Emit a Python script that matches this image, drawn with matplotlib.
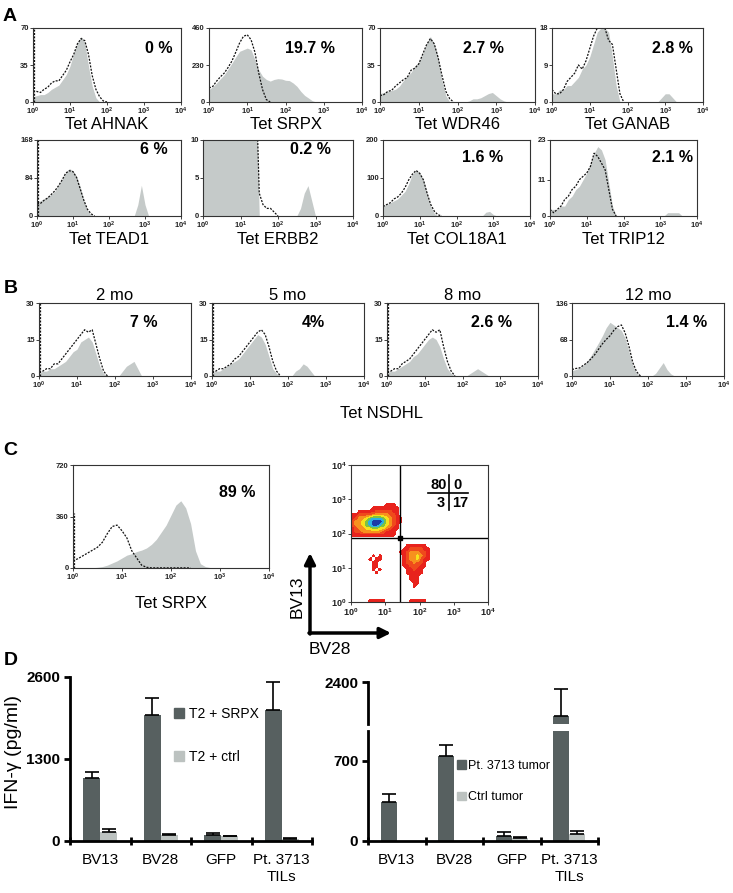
import numpy as np
import matplotlib
matplotlib.use('Agg')
import matplotlib.pyplot as plt
from matplotlib.colors import ListedColormap
from matplotlib.patches import Patch, FancyArrowPatch

plt.rcParams['font.family'] = ['Liberation Sans', 'DejaVu Sans']
plt.rcParams['mathtext.fontset'] = 'custom'
plt.rcParams['mathtext.rm'] = 'Liberation Sans'
plt.rcParams['mathtext.bf'] = 'Liberation Sans:bold'
plt.rcParams['mathtext.it'] = 'Liberation Sans:italic'

W, H = 733, 893
LOG_X = np.arange(41) * 0.1   # bin positions in decades, 10^0 .. 10^4
GRAY = '#c5cac9'
DARK = '#576060'
LIGHT = '#bcc2c0'

# ---------------- panel A : tetramer histograms (counts per 0.1 decade) ----------------
A_LABELS = ['Tet AHNAK', 'Tet SRPX', 'Tet WDR46', 'Tet GANAB',
            'Tet TEAD1', 'Tet ERBB2', 'Tet COL18A1', 'Tet TRIP12']
A_PCT = ['0 %', '19.7 %', '2.7 %', '2.8 %', '6 %', '0.2 %', '1.6 %', '2.1 %']
A_YMAX = [70, 460, 70, 18, 168, 10, 200, 23]
A_YMID = [35, 230, 35, 9, 84, 5, 100, 11]
A_EDGE = [70, 0, 0, 0, 168, 0, 0, 0]

ahnak = [5, 6, 7, 7, 9, 12, 14, 16, 21, 26, 34, 46, 56, 62, 56, 34, 15, 4, 0]
ahnak_ctrl = [10, 10, 9, 12, 14, 18, 20, 20, 25, 30, 38, 45, 55, 60, 58, 45, 25, 12, 5, 1, 0]
srpx = [77, 95, 118, 145, 170, 205, 242, 280, 315, 325, 335, 325, 263, 200, 160, 140, 130,
        140, 145, 143, 135, 133, 118, 97, 66, 41, 25, 8, 0]
srpx_ctrl = [87, 97, 130, 157, 180, 215, 255, 310, 367, 408, 418, 387, 310, 180, 77, 15, 0]
wdr46 = [8, 9, 10, 11, 12, 15, 20, 24, 28, 34, 38, 45, 55, 62, 55, 42, 20, 6, 0, 0, 0, 0, 0,
         1, 3, 3, 4, 6, 8, 9, 6, 3, 1]
wdr46_ctrl = [6, 7, 10, 11, 15, 18, 21, 23, 30, 32, 36, 45, 54, 60, 55, 42, 25, 10, 3, 0]
ganab = [2, 2, 3, 3, 4, 4, 5, 6, 8, 9, 11, 14, 17, 18, 18, 17, 11, 4, 0, 0, 0, 0, 0, 0, 0, 0,
         0, 0, 0, 1, 2, 2, 1]
ganab_ctrl = [3, 2, 2, 3, 5, 6, 7, 9, 8, 10, 13, 16, 18, 18, 18, 15, 14, 8, 2, 0]
tead1 = [30, 34, 38, 43, 48, 55, 68, 82, 96, 105, 100, 88, 65, 35, 12, 3, 0, 0, 0, 0, 0, 0, 0,
         0, 0, 0, 0, 0, 25, 68, 25]
tead1_ctrl = [28, 28, 35, 40, 48, 56, 67, 80, 95, 100, 98, 85, 60, 35, 15, 5, 0]
erbb2 = [20, 20, 20, 20, 20, 20, 20, 20, 20, 20, 20, 20, 20, 20, 20, 0, 0, 0, 0, 0, 0, 0, 0,
         0, 0, 0, 1, 3, 4, 2]
erbb2_ctrl = [20, 20, 20, 20, 20, 20, 20, 20, 20, 20, 20, 20, 20, 20, 20, 3, 1.5, 1, 1, 0.5, 0]
col18a1 = [28, 30, 35, 40, 45, 55, 65, 85, 110, 120, 115, 95, 60, 25, 6, 0, 0, 0, 0, 0, 0, 0,
           0, 0, 0, 0, 0, 0, 10, 12, 4]
col18a1_ctrl = [25, 30, 35, 45, 50, 60, 75, 95, 110, 120, 112, 95, 60, 30, 12, 3, 0]
trip12 = [2, 2, 2, 3, 3, 5, 6, 8, 9, 11, 13, 16, 19, 21, 20, 17, 10, 3, 0, 0, 0, 0, 0, 0, 0,
          0, 0, 0, 0, 0, 0, 0, 1, 1, 1, 1]
trip12_ctrl = [2, 1, 2, 3, 5, 6, 8, 9, 11, 12, 13, 15, 19, 18, 16, 14, 8, 2, 0]

A_FILL = [ahnak, srpx, wdr46, ganab, tead1, erbb2, col18a1, trip12]
A_CTRL = [ahnak_ctrl, srpx_ctrl, wdr46_ctrl, ganab_ctrl, tead1_ctrl, erbb2_ctrl,
          col18a1_ctrl, trip12_ctrl]

# ---------------- panel B : NSDHL over time ----------------
B_TITLES = ['2 mo', '5 mo', '8 mo', '12 mo']
B_PCT = ['7 %', '4%', '2.6 %', '1.4 %']
B_YMAX = [30, 30, 30, 136]
B_YMID = [15, 15, 15, 68]
B_EDGE = [30, 30, 30, 0]
mo2 = [1, 2, 2, 3, 3, 4, 5, 6, 8, 10, 11, 14, 15, 16, 14, 9, 4, 1, 0, 0, 0, 0, 2, 4, 5, 6, 3]
mo2_ctrl = [2, 2, 3, 3, 5, 5, 7, 9, 11, 13, 15, 17, 19, 18, 19, 13, 7, 2, 0]
mo5 = [1, 2, 2, 3, 4, 5, 6, 7, 9, 11, 13, 15, 17, 16, 13, 8, 3, 1, 0, 0, 0, 0, 2, 3, 5, 4, 2]
mo5_ctrl = [2, 2, 3, 3, 4, 5, 7, 8, 10, 12, 14, 16, 18, 19, 17, 12, 6, 2, 0]
mo8 = [1, 2, 2, 3, 4, 5, 6, 8, 9, 11, 13, 15, 16, 15, 12, 7, 3, 1, 0, 0, 0, 0, 1, 2, 3, 2, 1]
mo8_ctrl = [2, 2, 3, 3, 5, 6, 7, 9, 11, 13, 15, 17, 19, 18, 19, 12, 6, 2, 0]
mo12 = [10, 12, 15, 20, 28, 38, 50, 62, 75, 90, 100, 95, 90, 85, 70, 45, 20, 5, 0, 0, 0, 0,
        5, 15, 25, 12, 4]
mo12_ctrl = [12, 14, 15, 20, 25, 32, 40, 50, 60, 68, 75, 85, 92, 95, 80, 55, 25, 8, 0]
B_FILL = [mo2, mo5, mo8, mo12]
B_CTRL = [mo2_ctrl, mo5_ctrl, mo8_ctrl, mo12_ctrl]

# ---------------- panel C ----------------
c_srpx = [0, 0, 0, 0, 2, 5, 10, 20, 35, 50, 70, 90, 100, 115, 125, 140, 165, 200, 250, 300,
          370, 440, 470, 420, 310, 120, 30, 10, 3, 0]
c_srpx_ctrl = [50, 65, 85, 105, 125, 145, 180, 240, 290, 300, 260, 210, 120, 70, 20, 5,
               1, 1, 1, 1, 1, 1, 1, 1, 0]

# BV28 (x) vs BV13 (y) density level, 0.1-decade cells, top row = 10^3.9..10^4
DENSITY_ROWS = [
    '0' * 40, '0' * 40, '0' * 40, '0' * 40, '0' * 40,
    '0' * 40, '0' * 40, '0' * 40, '0' * 40, '0' * 40,
    '0' * 40,
    '0000000000111000000000000000000000000000',
    '0000001111111100000000000000000000000000',
    '0011111222221100000000000000000000000000',
    '1122223333322100000000000000000000000000',
    '1233456665432110000000000000000000000000',
    '2334567776432110000000000000000000000000',
    '2334567765432100000000000000000000000000',
    '1233445544321100000000000000000000000000',
    '1223333332111000000000000000000000000000',
    '1111111111111000000000000000000000000000',
    '0' * 40, '0' * 40,
    '0000000000000000111111000000000000000000',
    '0000000000000001122221100000000000000000',
    '0000000000000011233322100000000000000000',
    '0000001010000001233432100000000000000000',
    '0000010110000001233421100000000000000000',
    '0000001100000001223221000000000000000000',
    '0000001100000001122211000000000000000000',
    '0000001010000000112110000000000000000000',
    '0000000100000000111110000000000000000000',
    '0000000000000000011100000000000000000000',
    '0000000000000000011100000000000000000000',
    '0000000000000000001100000000000000000000',
    '0000000000000000001000000000000000000000',
    '0' * 40, '0' * 40, '0' * 40,
    '0000011111000000011111000000000000000000',
]
QUAD_X, QUAD_Y = 1.42, 1.87
QUAD_PCT = ['80', '0', '3', '17']

# ---------------- panel D : IFN-gamma ----------------
GROUPS = ['BV13', 'BV28', 'GFP', 'Pt. 3713\nTILs']
t2_srpx = [1000, 2000, 95, 2080]
t2_srpx_err = [100, 260, 35, 445]
t2_ctrl = [150, 100, 75, 25]
t2_ctrl_err = [35, 15, 5, 15]
tumor = [340, 740, 44, 2100]
tumor_err = [70, 100, 37, 240]
ctrl_tumor = [0, 10, 26, 61]
ctrl_tumor_err = [0, 0, 9, 29]

fig = plt.figure(figsize=(W / 100, H / 100), dpi=100)


def px_axes(x0, y0, x1, y1):
    return fig.add_axes([x0 / W, 1 - y1 / H, (x1 - x0) / W, (y1 - y0) / H])


def pad(values):
    out = np.zeros(len(LOG_X))
    out[:len(values)] = values
    return out


def log_ticks(ax, size):
    ax.set_xticks(range(5))
    ax.set_xticklabels([r'$\mathbf{10^{%d}}$' % k for k in range(5)])
    ax.tick_params(labelsize=size, length=2, width=0.6, pad=1, colors='#222')


def histogram(box, fill, ctrl, ymax, ymid, pct, pct_xy, edge=0):
    ax = px_axes(*box)
    fill = pad(fill)
    ctrl = pad(ctrl)
    last = np.flatnonzero(ctrl).max()
    ctrl[last + 2:] = np.nan
    ax.fill_between(LOG_X, fill, color=GRAY, lw=0)
    ax.plot(LOG_X, ctrl, color='#111', lw=0.9, ls=(0, (1.6, 1.1)))
    if edge:
        ax.plot([LOG_X[0] + 0.015] * 2, [0, edge], color='#111', lw=0.9, ls=(0, (1.6, 1.1)))
    ax.set_xlim(0, 4)
    ax.set_ylim(0, ymax)
    log_ticks(ax, 5.5)
    ax.set_yticks([0, ymid, ymax])
    ax.set_yticklabels([str(v) for v in (0, ymid, ymax)], fontweight='bold')
    for s in ax.spines.values():
        s.set_linewidth(0.8)
        s.set_color('#333')
    ax.text(pct_xy[0], pct_xy[1], pct, transform=ax.transAxes, ha='right', va='baseline',
            fontsize=11.5, fontweight='bold')
    return ax


def ftext(x, y, s, **kw):
    fig.text(x / W, 1 - y / H, s, **kw)


# panel letters
ftext(3, 21, 'A', fontsize=14, fontweight='bold', va='baseline')
ftext(4, 293, 'B', fontsize=14, fontweight='bold', va='baseline')
ftext(3, 455, 'C', fontsize=14, fontweight='bold', va='baseline')
ftext(4, 665, 'D', fontsize=14, fontweight='bold', va='baseline')

# ---- A
A_BOXES = [(33, 28, 181, 102), (209, 28, 362, 102), (380, 28, 535, 102), (552, 28, 703, 102),
           (37, 140, 181, 216), (203, 140, 353, 216), (383, 140, 530, 216), (550, 140, 697, 216)]
A_PCT_XY = [(0.94, 0.66), (0.82, 0.66), (0.80, 0.66), (0.93, 0.66),
            (0.91, 0.82), (0.85, 0.82), (0.82, 0.71), (0.97, 0.71)]
for i in range(8):
    box = A_BOXES[i]
    histogram(box, A_FILL[i], A_CTRL[i], A_YMAX[i], A_YMID[i], A_PCT[i], A_PCT_XY[i], A_EDGE[i])
    ftext((box[0] + box[2]) / 2, 129 if i < 4 else 244, A_LABELS[i], fontsize=12,
          ha='center', va='baseline')

# ---- B
B_BOXES = [(39, 303, 191, 376), (212, 303, 364, 376), (387, 303, 538, 376), (572, 303, 724, 376)]
B_PCT_X = [0.78, 0.74, 0.83, 0.89]
for i in range(4):
    box = B_BOXES[i]
    histogram(box, B_FILL[i], B_CTRL[i], B_YMAX[i], B_YMID[i], B_PCT[i], (B_PCT_X[i], 0.67),
              B_EDGE[i])
    ftext((box[0] + box[2]) / 2, 300, B_TITLES[i], fontsize=12, ha='center', va='baseline')
ftext(381, 418, 'Tet NSDHL', fontsize=12, ha='center', va='baseline')

# ---- C histogram
histogram((73, 465, 269, 568), c_srpx, c_srpx_ctrl, 720, 360, '89 %', (0.93, 0.69), 383)
ftext(171, 608, 'Tet SRPX', fontsize=12, ha='center', va='baseline')

# ---- C density plot
ax = px_axes(351, 465, 488, 602)
Z = np.array([[int(c) for c in row] for row in DENSITY_ROWS], dtype=float)
cmap = ListedColormap(['#e8231d', '#ef4a1c', '#f7911e', '#f6e21c', '#7fc241', '#2eb1e0',
                       '#1b3aa6'])
cmap.set_under((1, 1, 1, 0))
ax.imshow(Z, extent=(0, 4, 0, 4), origin='upper', cmap=cmap, vmin=0.5, vmax=7.5,
          interpolation='bilinear', interpolation_stage='data', aspect='auto')
ax.axvline(QUAD_X, color='k', lw=1)
ax.axhline(QUAD_Y, color='k', lw=1)
ax.plot(QUAD_X, QUAD_Y, 's', ms=3, color='k')
ax.plot([2.86, 2.86], [2.69, 3.71], color='k', lw=1.2)
ax.plot([2.26, 3.42], [3.18, 3.18], color='k', lw=1.2)
ax.text(2.80, 3.42, QUAD_PCT[0], ha='right', va='center', fontsize=10.5, fontweight='bold')
ax.text(2.98, 3.42, QUAD_PCT[1], ha='left', va='center', fontsize=10.5, fontweight='bold')
ax.text(2.75, 2.90, QUAD_PCT[2], ha='right', va='center', fontsize=10.5, fontweight='bold')
ax.text(2.94, 2.90, QUAD_PCT[3], ha='left', va='center', fontsize=10.5, fontweight='bold')
ax.set_xlim(0, 4)
ax.set_ylim(0, 4)
log_ticks(ax, 6.5)
ax.set_yticks(range(5))
ax.set_yticklabels([r'$\mathbf{10^{%d}}$' % k for k in range(5)])
for s in ax.spines.values():
    s.set_linewidth(0.8)
    s.set_color('#333')

# axis arrows
arrow = dict(arrowstyle='-|>', lw=2.5, color='k', mutation_scale=16, shrinkA=0, shrinkB=0)
fig.add_artist(FancyArrowPatch((310 / W, 1 - 634 / H), (310 / W, 1 - 553 / H),
                               transform=fig.transFigure, **arrow))
fig.add_artist(FancyArrowPatch((309 / W, 1 - 633 / H), (391 / W, 1 - 633 / H),
                               transform=fig.transFigure, **arrow))
ftext(297, 597, 'BV13', fontsize=12.5, rotation=90, ha='center', va='center')
ftext(330, 650, 'BV28', fontsize=12.5, ha='center', va='center')


# ---- D
def bars(ax, dark, dark_err, light, light_err):
    x = np.arange(len(GROUPS))
    w = 0.28
    ax.bar(x - w / 2, dark, w, color=DARK)
    ax.bar(x + w / 2, light, w, color=LIGHT)
    err = dict(fmt='none', ecolor='k', elinewidth=1.2, capsize=5, capthick=1.2)
    ax.errorbar(x - w / 2, dark, yerr=[np.zeros(len(x)), dark_err], **err)
    keep = np.array(light_err) > 0
    ax.errorbar((x + w / 2)[keep], np.array(light)[keep],
                yerr=[np.zeros(keep.sum()), np.array(light_err)[keep]], **err)


def d_axes(ax, ylim, yticks, show_x=True):
    ax.set_xlim(-0.5, 3.5)
    ax.set_ylim(*ylim)
    ax.set_yticks(yticks)
    ax.set_yticklabels([str(v) for v in yticks], fontweight='bold')
    for side in ('top', 'right'):
        ax.spines[side].set_visible(False)
    ax.spines['left'].set_linewidth(2)
    ax.spines['bottom'].set_linewidth(2)
    ax.tick_params(axis='y', labelsize=11, length=4, width=2, pad=3)
    if show_x:
        ax.set_xticks(range(4))
        ax.set_xticklabels(GROUPS, linespacing=1.25)
        ax.set_xticks(np.arange(-0.5, 4, 1), minor=True)
        ax.tick_params(axis='x', which='major', length=0, labelsize=11, pad=9)
        ax.tick_params(axis='x', which='minor', direction='inout', length=6, width=2)
    else:
        ax.spines['bottom'].set_visible(False)
        ax.set_xticks([])


ax = px_axes(70, 677, 312, 841)
bars(ax, t2_srpx, t2_srpx_err, t2_ctrl, t2_ctrl_err)
d_axes(ax, (0, 2600), [0, 1300, 2600])
ax.legend([Patch(color=DARK), Patch(color=LIGHT)], ['T2 + SRPX', 'T2 + ctrl'],
          loc='upper left', bbox_to_anchor=(174 / W, 1 - 707 / H), bbox_transform=fig.transFigure,
          frameon=False, fontsize=10, handlelength=0.7, handleheight=0.7, handletextpad=0.4,
          labelspacing=2.1, borderpad=0, borderaxespad=0)
ftext(14, 752, 'IFN-γ (pg/ml)', fontsize=14, rotation=90, ha='center', va='center')

ax = px_axes(368, 731, 598, 841)
bars(ax, tumor, tumor_err, ctrl_tumor, ctrl_tumor_err)
d_axes(ax, (0, 959), [0, 700])
ax.legend([Patch(color=DARK), Patch(color=LIGHT)], ['Pt. 3713 tumor', 'Ctrl tumor'],
          loc='upper left', bbox_to_anchor=(457 / W, 1 - 760 / H), bbox_transform=fig.transFigure,
          frameon=False, fontsize=9, handlelength=0.7, handleheight=0.7, handletextpad=0.15,
          labelspacing=1.55, borderpad=0, borderaxespad=0)

ax = px_axes(368, 682, 598, 724)
bars(ax, tumor, tumor_err, ctrl_tumor, ctrl_tumor_err)
d_axes(ax, (2034, 2400), [2400], show_x=False)

fig.savefig('out.png', dpi=100)
